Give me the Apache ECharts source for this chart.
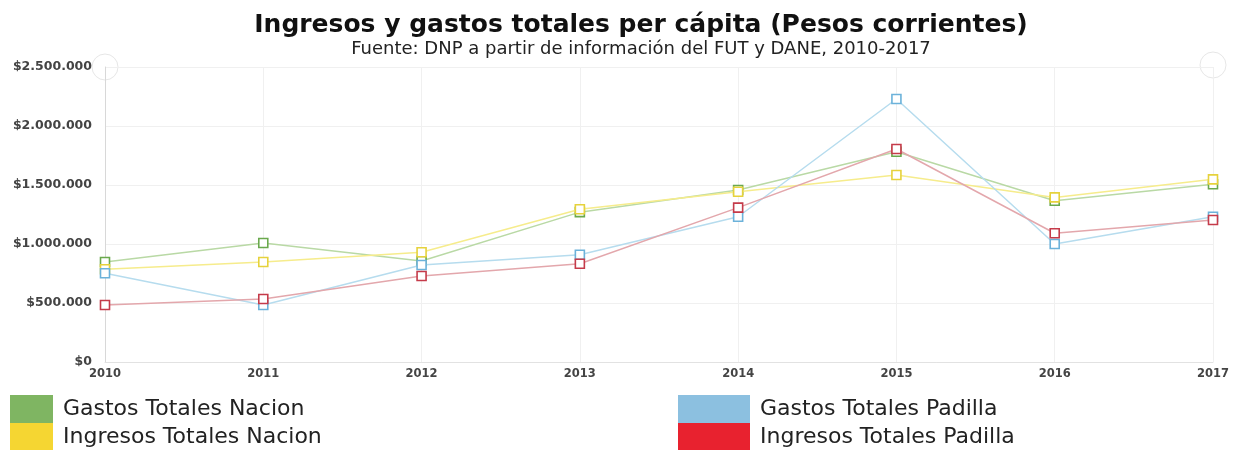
<!DOCTYPE html>
<html><head><meta charset="utf-8">
<script src="https://cdn.jsdelivr.net/npm/echarts@6/dist/echarts.min.js"></script>
<style>html,body{margin:0;padding:0;background:#fff}#c{width:1236px;height:450px}</style>
</head><body><div id="c"></div>
<script>
const years = ['2010','2011','2012','2013','2014','2015','2016','2017'];
const gastosNacion = [847000, 1008000, 856000, 1270000, 1458000, 1782000, 1367000, 1506000];
const ingresosNacion = [786000, 847000, 930000, 1294000, 1443000, 1585000, 1395000, 1548000];
const gastosPadilla = [752000, 483000, 822000, 909000, 1231000, 2229000, 1000000, 1231000];
const ingresosPadilla = [483000, 534000, 729000, 833000, 1308000, 1805000, 1091000, 1203000];
const seriesNames = ['Gastos Totales Nacion','Ingresos Totales Nacion','Gastos Totales Padilla','Ingresos Totales Padilla'];

const legendColors = ['#7fb562','#f5d632','#8cc0e0','#e8222f'];
const lineColors = ['#b9d9a5','#f6ec8c','#b6dcee','#e3a7ac'];
const markColors = ['#6aa94d','#e6d23c','#6cb2da','#c53b4a'];
const values = [gastosNacion, ingresosNacion, gastosPadilla, ingresosPadilla];

function fmt(v){ return '$' + String(v).replace(/\B(?=(\d{3})+(?!\d))/g,'.'); }

const legendPos = [[10,395,43],[10,423,43],[678,395,72],[678,423,72]];

const chart = echarts.init(document.getElementById('c'));
chart.setOption({
  animation:false,
  title:{text:'Ingresos y gastos totales per cápita (Pesos corrientes)',
    subtext:'Fuente: DNP a partir de información del FUT y DANE, 2010-2017',
    left:636, textAlign:'center', top:8, itemGap:2,
    textStyle:{fontFamily:'DejaVu Sans',fontSize:25,fontWeight:'bold',color:'#111'},
    subtextStyle:{fontFamily:'DejaVu Sans',fontSize:18,color:'#222'}},
  grid:{left:105,right:23,top:67,bottom:88},
  xAxis:{type:'category',data:years,boundaryGap:false,
    axisLine:{lineStyle:{color:'#e2e2e2'}},axisTick:{show:false},
    axisLabel:{fontFamily:'DejaVu Sans',fontSize:11.5,fontWeight:'bold',color:'#444',margin:6},
    splitLine:{show:true,lineStyle:{color:'#f0f0f0'}}},
  yAxis:{type:'value',min:0,max:2500000,interval:500000,
    axisLine:{show:true,lineStyle:{color:'#d8d8d8'}},axisTick:{show:false},
    axisLabel:{formatter:fmt,fontFamily:'DejaVu Sans',fontSize:12.5,fontWeight:'bold',color:'#444',margin:13},
    splitLine:{lineStyle:{color:'#f0f0f0'}}},
  legend: seriesNames.map((n,i)=>({
    orient:'horizontal',left:legendPos[i][0],top:legendPos[i][1],padding:0,itemGap:0,
    itemWidth:legendPos[i][2],itemHeight:28,icon:'rect',
    textStyle:{fontFamily:'DejaVu Sans',fontSize:22,color:'#222',padding:[0,0,0,5]},
    data:[{name:n,itemStyle:{color:legendColors[i],borderWidth:0}}]
  })),
  graphic:[
    {type:'circle',shape:{cx:105,cy:67,r:13},style:{fill:'#fff',stroke:'#e6e6e6',lineWidth:1},z:0},
    {type:'circle',shape:{cx:1213,cy:65,r:13},style:{fill:'#fff',stroke:'#e6e6e6',lineWidth:1},z:0}
  ],
  series: values.map((d,i)=>({
    name:seriesNames[i],type:'line',data:d,symbol:'rect',symbolSize:9,showSymbol:true,
    lineStyle:{color:lineColors[i],width:1.5},
    itemStyle:{color:'#fff',borderColor:markColors[i],borderWidth:1.6},
    z:10+i
  }))
});
</script></body></html>
